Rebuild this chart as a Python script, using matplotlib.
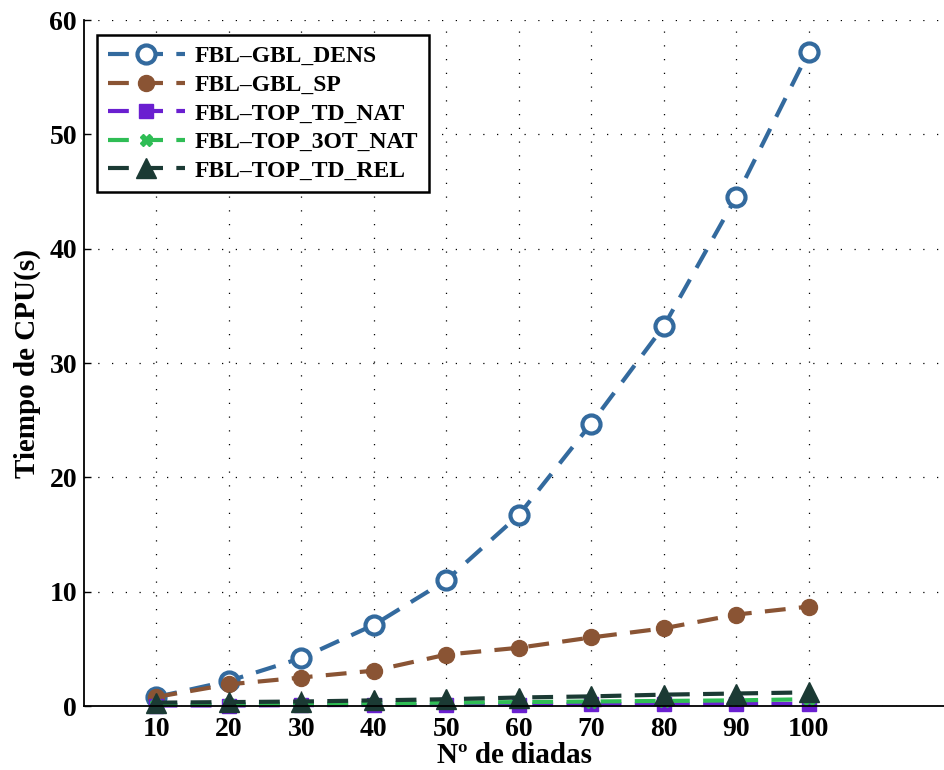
from matplotlib import pyplot as plt
import numpy as np

## Datos

diadas = [10, 20, 30, 40, 50, 60, 70, 80, 90, 100]
gbl_dens = [0.8, 2.2, 4.2, 7.1, 11.0, 16.7, 24.7, 33.2, 44.5, 57.2]
gbl_sp = [0.8, 1.9, 2.5, 3.1, 4.5, 5.1, 6.0, 6.8, 8.0, 8.7]
top_td_nat = [0.05, 0.05, 0.08, 0.1, 0.1, 0.12, 0.15, 0.15, 0.18, 0.2]
top_3ot_nat = [0.1, 0.15, 0.2, 0.25, 0.3, 0.35, 0.4, 0.45, 0.5, 0.6]
top_td_rel = [0.3, 0.35, 0.4, 0.5, 0.6, 0.75, 0.85, 1.0, 1.1, 1.2]

etiquetas = ['FBL\u2013GBL_DENS', 'FBL\u2013GBL_SP', 'FBL\u2013TOP_TD_NAT',
             'FBL\u2013TOP_3OT_NAT', 'FBL\u2013TOP_TD_REL']

## Figura

plt.rcParams['font.family'] = ['Liberation Serif', 'DejaVu Serif']
plt.rcParams['font.weight'] = 'bold'

fig = plt.figure(figsize=(9.44, 7.7), dpi=100)
ax = fig.add_axes([0.089, 0.083, 0.911, 0.891])

rayas = (5.0, 3.2)
ax.plot(diadas, gbl_dens, color='#336a9e', lw=3, dashes=rayas, marker='o',
        ms=13, mfc='white', mec='#336a9e', mew=3, label=etiquetas[0], clip_on=False)
ax.plot(diadas, gbl_sp, color='#8a5434', lw=3, dashes=rayas, marker='o',
        ms=11.5, mfc='#8a5434', mec='#8a5434', label=etiquetas[1], clip_on=False)
ax.plot(diadas, top_td_nat, color='#6a1fd0', lw=3, dashes=rayas, marker='s',
        ms=10, mfc='#6a1fd0', mec='#6a1fd0', label=etiquetas[2], clip_on=False)
ax.plot(diadas, top_3ot_nat, color='#2fbd55', lw=3, dashes=rayas, marker='X',
        ms=9, mfc='#2fbd55', mec='#2fbd55', label=etiquetas[3], clip_on=False)
ax.plot(diadas, top_td_rel, color='#1b3a34', lw=3, dashes=rayas, marker='^',
        ms=15, mfc='#1b3a34', mec='#1b3a34', label=etiquetas[4], clip_on=False)

ax.set_xlim(0, 118.7)
ax.set_ylim(0, 60)
ax.set_xticks(diadas)
ax.set_yticks(np.arange(0, 61, 10))
ax.tick_params(labelsize=20, direction='in', length=5, width=1)
ax.tick_params(axis='x', pad=8)
ax.tick_params(axis='y', pad=5)
for t in ax.get_xticklabels() + ax.get_yticklabels():
    t.set_fontweight('bold')

ax.grid(True, color='black', linestyle=(0, (1, 10)), linewidth=0.9)
ax.spines['top'].set_visible(False)
ax.spines['right'].set_visible(False)
ax.spines['left'].set_linewidth(1.3)
ax.spines['bottom'].set_linewidth(1.3)

ax.set_xlabel('N\u00ba de diadas', fontsize=21, fontweight='bold', labelpad=0)
ax.set_ylabel('Tiempo de CPU(s)', fontsize=21, fontweight='bold', labelpad=6)

leg = ax.legend(loc='upper left', bbox_to_anchor=(0.015, 0.978), borderaxespad=0,
                handlelength=3.3, handletextpad=0.4, fancybox=False, framealpha=1,
                edgecolor='black', borderpad=0.45, labelspacing=0.3,
                prop={'weight': 'bold', 'size': 17})
leg.get_frame().set_linewidth(1.8)

plt.savefig('out.png', dpi=100)
